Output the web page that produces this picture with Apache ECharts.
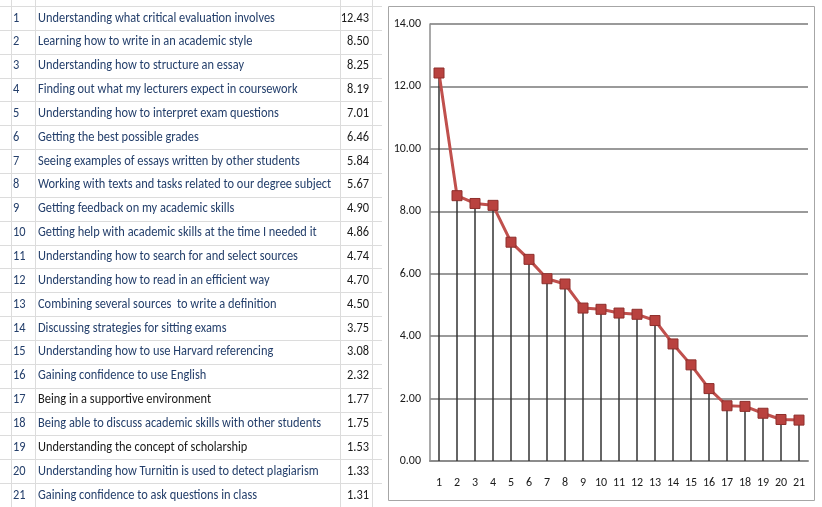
<!DOCTYPE html>
<html><head><meta charset="utf-8">
<script src="https://cdn.jsdelivr.net/npm/echarts@6/dist/echarts.min.js"></script>
<style>html,body{margin:0;padding:0;background:#fff}#c{width:822px;height:507px}</style>
</head><body><div id="c"></div>
<script>
const ranks = ['1','2','3','4','5','6','7','8','9','10','11','12','13','14','15','16','17','18','19','20','21'];
const items = [
 'Understanding what critical evaluation involves',
 'Learning how to write in an academic style',
 'Understanding how to structure an essay',
 'Finding out what my lecturers expect in coursework',
 'Understanding how to interpret exam questions',
 'Getting the best possible grades',
 'Seeing examples of essays written by other students',
 'Working with texts and tasks related to our degree subject',
 'Getting feedback on my academic skills',
 'Getting help with academic skills at the time I needed it',
 'Understanding how to search for and select sources',
 'Understanding how to read in an efficient way',
 'Combining several sources  to write a definition',
 'Discussing strategies for sitting exams',
 'Understanding how to use Harvard referencing',
 'Gaining confidence to use English',
 'Being in a supportive environment',
 'Being able to discuss academic skills with other students',
 'Understanding the concept of scholarship',
 'Understanding how Turnitin is used to detect plagiarism',
 'Gaining confidence to ask questions in class'
];
const scores = [12.43,8.50,8.25,8.19,7.01,6.46,5.84,5.67,4.90,4.86,4.74,4.70,4.50,3.75,3.08,2.32,1.77,1.75,1.53,1.33,1.31];
const blackRows = [17,19];

const FONT = 'Carlito, "Liberation Sans Narrow", "DejaVu Sans Condensed", sans-serif';
const rowH = 23.85, y0 = 18;
const SX = 0.885;
const g = [];
for (let i = 0; i <= ranks.length; i++) {
  const y = Math.round(y0 + (i - 0.5) * rowH) + 0.5;
  g.push({type:'line', shape:{x1:0,y1:y,x2:382,y2:y}, style:{stroke:'#dcdcdc',lineWidth:1}, silent:true});
}
[11,35,340,372].forEach(x=>{
  g.push({type:'line', shape:{x1:x+0.5,y1:0,x2:x+0.5,y2:507}, style:{stroke:'#dcdcdc',lineWidth:1}, silent:true});
});
ranks.forEach((r,i)=>{
  const y = y0 + i*rowH;
  const col = blackRows.includes(i+1) ? '#1a1a1a' : '#243f6b';
  g.push({type:'text', x:13, y:y, scaleX:SX, style:{text:r, font:'14px '+FONT, fill:'#243f6b', textVerticalAlign:'middle'}, silent:true});
  g.push({type:'text', x:38, y:y, scaleX:SX, style:{text:items[i], font:'14px '+FONT, fill:col, textVerticalAlign:'middle'}, silent:true});
  g.push({type:'text', x:369, y:y, scaleX:SX, style:{text:scores[i].toFixed(2), font:'14px '+FONT, fill:'#1a1a1a', textAlign:'right', textVerticalAlign:'middle'}, silent:true});
});
g.push({type:'rect', shape:{x:388.5,y:6.5,width:426,height:494}, style:{fill:null, stroke:'#a6a6a6', lineWidth:1}, silent:true, z:-1});

const chart = echarts.init(document.getElementById('c'));
chart.setOption({
  animation:false,
  backgroundColor:'#fff',
  graphic:{elements:g},
  grid:{left:430, right:14, top:24, bottom:46},
  xAxis:{type:'category', data:ranks, boundaryGap:true,
    axisLine:{lineStyle:{color:'#8c8c8c',width:2}}, axisTick:{show:false},
    axisLabel:{color:'#1a1a1a', fontSize:12, fontFamily:FONT, margin:16}},
  yAxis:{type:'value', min:0, max:14, interval:2,
    axisLine:{show:true, lineStyle:{color:'#8c8c8c',width:1.5}}, axisTick:{show:false},
    splitLine:{lineStyle:{color:'#9a9a9a',width:2}},
    axisLabel:{color:'#1a1a1a', fontSize:12, fontFamily:FONT, margin:9, formatter:v=>v.toFixed(2)}},
  series:[
    {type:'bar', data:scores, barWidth:1.5, itemStyle:{color:'#333'}, silent:true, z:1},
    {type:'line', data:scores, symbol:'rect', symbolSize:10,
      lineStyle:{color:'#c0504d', width:3},
      itemStyle:{color:'#b9423f', borderColor:'#8e2f2c', borderWidth:1}, z:3}
  ]
});
</script></body></html>
